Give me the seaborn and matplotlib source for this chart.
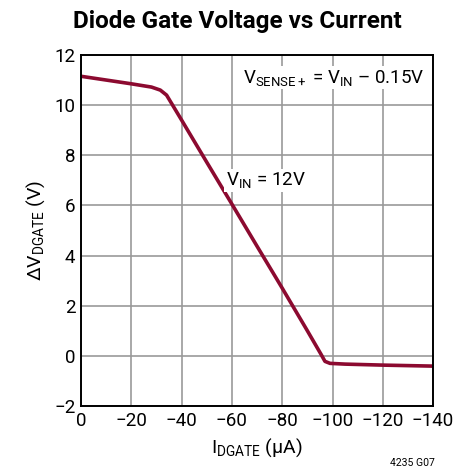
import matplotlib
matplotlib.use("Agg")
import matplotlib.pyplot as plt
import seaborn as sns
import pandas as pd

current_uA = [0, -10, -20, -28, -31.5, -34, -40, -50, -60, -70, -80, -90, -95.5, -97, -99, -105, -120, -140]
vdgate_V = [11.15, 11.0, 10.85, 10.72, 10.6, 10.4, 9.4, 7.72, 6.05, 4.37, 2.7, 1.0, 0.05, -0.22, -0.3, -0.33, -0.37, -0.41]

x_ticks = [0, -20, -40, -60, -80, -100, -120, -140]
x_labels = ["0", "\u221220", "\u221240", "\u221260", "\u221280", "\u2212100", "\u2212120", "\u2212140"]
y_ticks = [-2, 0, 2, 4, 6, 8, 10, 12]
y_labels = ["\u22122", "0", "2", "4", "6", "8", "10", "12"]

sns.set_theme(style="white")
plt.rcParams['font.family'] = ['Roboto', 'Liberation Sans', 'DejaVu Sans']
plt.rcParams['mathtext.fontset'] = 'custom'
plt.rcParams['mathtext.rm'] = 'Roboto'
plt.rcParams['mathtext.it'] = 'Roboto'
plt.rcParams['text.color'] = 'black'
plt.rcParams['axes.labelcolor'] = 'black'

df = pd.DataFrame({"I": current_uA, "V": vdgate_V})

fig = plt.figure(figsize=(4.53, 4.74), dpi=100)
ax = fig.add_axes([0.179, 0.1435, 0.777, 0.7405])
sns.lineplot(data=df, x="I", y="V", ax=ax, color="#8c0a30", linewidth=2.6)

ax.set_xlim(0, -140)
ax.set_ylim(-2, 12)
ax.set_xticks(x_ticks)
ax.set_xticklabels(x_labels, fontsize=13.5)
ax.set_yticks(y_ticks)
ax.set_yticklabels(y_labels, fontsize=13.5)
ax.tick_params(axis='both', length=0, pad=4, colors='black', labelcolor='black')
ax.grid(True, color='#999999', linewidth=1.2)
for s in ax.spines.values():
    s.set_color('black')
    s.set_linewidth(1.4)

ax.set_xlabel(r"I$_{\mathregular{DGATE}}$ ($\mathregular{\mu}$A)", fontsize=14, labelpad=5)
ax.set_ylabel(r"$\mathregular{\Delta}$V$_{\mathregular{DGATE}}$ (V)", fontsize=14, labelpad=5)

fig.text(0.525, 0.955, "Diode Gate Voltage vs Current", ha='center', va='center',
         fontsize=17.5, fontweight='bold')
ax.text(0.975, 0.935, "V$_{\\mathregular{SENSE+}}$ = V$_{\\mathregular{IN}}$ \u2013 0.15V",
        transform=ax.transAxes, ha='right', va='center', fontsize=13.5,
        bbox=dict(facecolor='white', edgecolor='none', pad=1))
ax.text(-57.5, 7.0, r"V$_{\mathregular{IN}}$ = 12V", ha='left', va='center', fontsize=13.5,
        bbox=dict(facecolor='white', edgecolor='none', pad=1))
fig.text(0.96, 0.012, "4235 G07", ha='right', va='bottom', fontsize=7.5)

fig.savefig("out.png", dpi=100)
